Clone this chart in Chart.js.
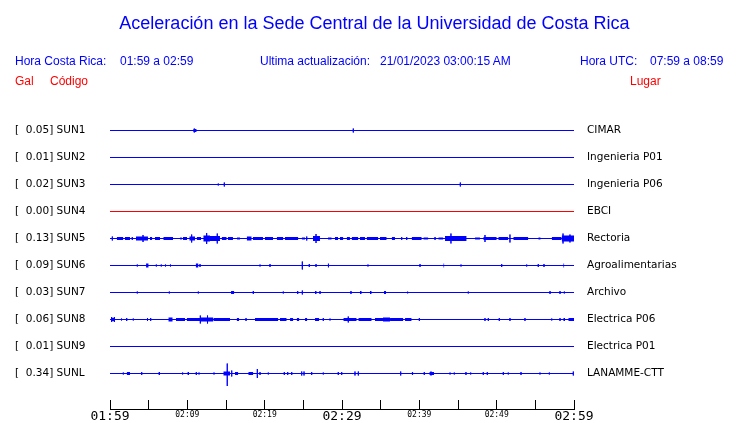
<!DOCTYPE html>
<html lang="es">
<head>
<meta charset="utf-8">
<title>Aceleración Sede Central UCR</title>
<script src="https://cdn.jsdelivr.net/npm/chart.js@4.4.1/dist/chart.umd.min.js"></script>
<style>
    body { margin: 0; background: #fff; }
    #marco { position: relative; width: 740px; height: 423px; overflow: hidden; font-family: "Liberation Sans", Arial, sans-serif; }
    #grafico { position: absolute; left: 0; top: 0; }
    .txt { position: absolute; white-space: pre; line-height: 1; font-size: 12px; color: #0000ff; }
    .rojo { color: #ff0000; }
    #titulo { left: 0; width: 749px; text-align: center; top: 14px; font-size: 18px; }
</style>
</head>
<body>
<div id="marco">
    <canvas id="grafico" width="740" height="423"></canvas>
    <div class="txt" id="titulo">Aceleración en la Sede Central de la Universidad de Costa Rica</div>
    <div class="txt" style="left:15px;top:55px">Hora Costa Rica:</div>
    <div class="txt" style="left:120px;top:55px">01:59 a 02:59</div>
    <div class="txt" style="left:260px;top:55px">Ultima actualización:</div>
    <div class="txt" style="left:380px;top:55px">21/01/2023 03:00:15 AM</div>
    <div class="txt" style="left:580px;top:55px">Hora UTC:</div>
    <div class="txt" style="left:650px;top:55px">07:59 a 08:59</div>
    <div class="txt rojo" style="left:15px;top:75px">Gal</div>
    <div class="txt rojo" style="left:50px;top:75px">Código</div>
    <div class="txt rojo" style="left:630px;top:75px">Lugar</div>
</div>
<script>
// estaciones
const codigos = ['SUN1', 'SUN2', 'SUN3', 'SUN4', 'SUN5', 'SUN6', 'SUN7', 'SUN8', 'SUN9', 'SUNL'];
const valoresGal = [0.05, 0.01, 0.02, 0.00, 0.13, 0.09, 0.03, 0.06, 0.01, 0.34];
const lugares = ['CIMAR', 'Ingenieria P01', 'Ingenieria P06', 'EBCI', 'Rectoria', 'Agroalimentarias',
    'Archivo', 'Electrica P06', 'Electrica P01', 'LANAMME-CTT'];
// eje de tiempo (minutos desde 01:59, cada 10)
const etiquetasTiempo = ['01:59', '02:09', '02:19', '02:29', '02:39', '02:49', '02:59'];

// picos: [minuto, amplitud(, amplitud abajo)]  rafagas: [minuto inicio, minuto fin, amplitud]
const picosSUN1 = [[10.9, 2], [31.46, 2]];
const rafagasSUN1 = [[10.77, 11.21, 1.5]];
const picosSUN2 = [];
const rafagasSUN2 = [];
const picosSUN3 = [[14.0, 1], [14.78, 2], [45.3, 2]];
const rafagasSUN3 = [];
const picosSUN4 = [];
const rafagasSUN4 = [];
const picosSUN5 = [[0.3, 2], [2.88, 1.5], [4.27, 3.5], [9.18, 1], [10.56, 4], [12.5, 5.5], [13.87, 5],
    [25.44, 2], [26.64, 4.5], [37.72, 1.5], [38.37, 1.5], [42.03, 1.5], [44.09, 5], [48.49, 3.5],
    [51.72, 4], [58.58, 5], [59.48, 4]];
const rafagasSUN5 = [[0.87, 1.72, 1.5], [1.94, 2.59, 1.5], [3.36, 4.91, 2], [5.17, 5.47, 1.5], [5.82, 6.47, 1.5],
    [6.89, 8.15, 1.5], [9.44, 9.96, 1.5], [10.25, 10.99, 2], [11.21, 11.77, 1.5], [12.06, 12.93, 3],
    [12.93, 14.22, 2.5], [14.44, 15.09, 1.5], [15.26, 15.9, 1.5], [16.42, 16.81, 1], [17.68, 18.32, 2],
    [18.49, 19.78, 1.5], [20.04, 21.08, 1.5], [21.56, 22.41, 1.5], [22.63, 24.35, 1.5], [24.79, 25.22, 1],
    [26.25, 27.15, 2.5], [28.19, 28.67, 1], [29.09, 29.48, 1.5], [29.74, 30.17, 1.5], [30.61, 31.03, 1.5],
    [31.25, 32.11, 1.5], [32.33, 32.97, 1.5], [33.19, 34.69, 1.5], [34.91, 35.78, 1.5], [36.43, 36.85, 1.5],
    [39.01, 40.31, 1.5], [40.52, 41.16, 1], [42.45, 43.1, 1], [43.32, 46.12, 2.5], [47.2, 47.84, 1],
    [48.27, 50.01, 1.5], [50.21, 51.5, 1.5], [52.15, 54.09, 1.5], [55.38, 55.69, 1], [57.12, 58.41, 1.5],
    [58.41, 60, 3]];
const picosSUN6 = [[3.53, 1], [5.99, 1], [6.63, 1], [7.18, 1], [7.82, 1], [11.64, 1.5], [19.4, 1], [20.69, 1.5],
    [24.87, 4], [25.77, 1.5], [26.64, 1.5], [33.36, 1], [40.09, 1.5], [45.39, 1], [50.65, 1.5], [53.88, 1],
    [55.38, 1.5], [56.12, 1.5]];
const rafagasSUN6 = [[4.66, 5.0, 2], [11.08, 11.44, 2], [28.15, 28.32, 2], [43.1, 43.23, 2], [58.61, 58.74, 2]];
const picosSUN7 = [[3.53, 1], [7.67, 1], [11.42, 1], [18.53, 1.5], [22.41, 1], [24.27, 1.5], [24.87, 2],
    [27.16, 1.5], [31.16, 1.5], [46.33, 1], [56.9, 1.5], [58.19, 1.5], [58.75, 1]];
const rafagasSUN7 = [[15.65, 16.07, 1.5], [26.51, 26.73, 1.5], [32.33, 32.55, 1.5], [33.62, 33.84, 1.5],
    [35.43, 35.69, 1.5], [38.44, 38.57, 1.5]];
const picosSUN8 = [[0.22, 2.5], [0.56, 2.5], [1.49, 1], [2.16, 1.5], [3.01, 1], [4.85, 1.5], [5.26, 1.5],
    [11.68, 4], [12.61, 4], [17.59, 1.5], [27.58, 1.5], [28.45, 1], [30.81, 3], [40.0, 1.5], [48.49, 1.5],
    [48.92, 1.5], [50.34, 1.5], [51.72, 1.5], [53.66, 1.5], [57.12, 1], [58.19, 1.5]];
const rafagasSUN8 = [[0.13, 0.65, 1.5], [7.54, 8.11, 2], [8.53, 9.7, 1.5], [9.92, 11.64, 1.5], [11.64, 13.36, 2],
    [13.36, 15.52, 1.5], [16.38, 16.71, 1.5], [18.75, 21.76, 1.5], [21.98, 22.85, 1.5], [23.28, 23.7, 1.5],
    [24.14, 24.48, 1.5], [25.22, 25.51, 1.5], [26.51, 27.06, 1.5], [30.17, 31.9, 1.5], [32.11, 33.84, 1.5],
    [34.27, 35.3, 1.5], [35.3, 36.21, 2], [36.21, 37.93, 1.5], [38.15, 39.01, 1.5], [58.61, 58.84, 1.5],
    [59.26, 60, 1.5]];
const picosSUN9 = [];
const rafagasSUN9 = [];
const picosSUNL = [[1.72, 1], [4.1, 1.5], [9.39, 1], [11.16, 1.5], [11.51, 1], [13.45, 1], [15.16, 10, 12.5],
    [15.74, 3], [19.05, 4.5], [19.4, 1.5], [20.47, 1], [22.54, 1.5], [22.98, 1.5], [23.5, 1.5], [24.79, 2],
    [25.09, 2], [26.08, 1.5], [27.58, 1], [29.52, 1.5], [29.96, 1.5], [31.68, 2], [32.11, 2], [37.59, 2],
    [40.64, 1.5], [41.51, 2], [43.97, 1], [44.52, 1], [46.03, 1.5], [46.64, 1], [48.27, 1.5], [48.79, 1.5],
    [50.86, 1.5], [51.5, 1], [53.15, 1.5], [55.6, 1], [56.81, 1], [59.91, 2]];
const rafagasSUNL = [[2.16, 2.59, 1.5], [6.25, 6.47, 1.5], [10.0, 10.22, 1.5], [14.65, 15.52, 2],
    [16.16, 16.59, 1.5], [17.88, 18.53, 1.5], [39.01, 39.22, 1.5], [41.29, 41.9, 1.5]];

const picos = [picosSUN1, picosSUN2, picosSUN3, picosSUN4, picosSUN5, picosSUN6, picosSUN7, picosSUN8, picosSUN9, picosSUNL];
const rafagas = [rafagasSUN1, rafagasSUN2, rafagasSUN3, rafagasSUN4, rafagasSUN5, rafagasSUN6, rafagasSUN7, rafagasSUN8, rafagasSUN9, rafagasSUNL];

// unidades del eje y = pixeles, una fila cada 27
const separacion = 27;
const bases = codigos.map((c, i) => 278.5 - separacion * i);
const colorDe = i => codigos[i] === 'SUN4' ? '#ff0000' : '#0000ff';
const etiquetasIzq = codigos.map((c, i) => '[  ' + valoresGal[i].toFixed(2) + '] ' + c);

const datasets = [];
codigos.forEach((c, i) => {
    const b = bases[i];
    const pts = [{ x: 0, y: b }];
    picos[i].slice().sort((p, q) => p[0] - q[0]).forEach(p => {
        const arriba = p[1];
        const abajo = p.length > 2 ? p[2] : p[1];
        pts.push({ x: p[0], y: b }, { x: p[0], y: b + arriba }, { x: p[0], y: b - abajo }, { x: p[0], y: b });
    });
    pts.push({ x: 60, y: b });
    datasets.push({ data: pts, borderColor: colorDe(i), borderWidth: 1, pointRadius: 0, fill: false, order: 2 });

    if (rafagas[i].length) {
        const sup = [], inf = [];
        rafagas[i].forEach(r => {
            sup.push({ x: r[0], y: b + r[2] }, { x: r[1], y: b + r[2] }, { x: r[1], y: null });
            inf.push({ x: r[0], y: b - r[2] }, { x: r[1], y: b - r[2] }, { x: r[1], y: null });
        });
        datasets.push({ data: sup, borderColor: 'transparent', backgroundColor: colorDe(i), borderWidth: 1,
            pointRadius: 0, fill: '+1', spanGaps: false, order: 1 });
        datasets.push({ data: inf, borderColor: 'transparent', borderWidth: 1, pointRadius: 0,
            fill: false, spanGaps: false, order: 1 });
    }
});

const fuenteMono = 'DejaVu Sans Mono';

new Chart(document.getElementById('grafico'), {
    type: 'line',
    data: { datasets: datasets },
    options: {
        responsive: false,
        animation: false,
        devicePixelRatio: 1,
        events: [],
        layout: { padding: { top: 103, left: 15, right: 0, bottom: 0 } },
        plugins: { legend: { display: false }, tooltip: { enabled: false } },
        scales: {
            x: {
                type: 'linear', min: 0, max: 60, position: 'bottom',
                ticks: {
                    stepSize: 5, autoSkip: false, maxRotation: 0, padding: 8.7, color: '#000',
                    font: ctx => (ctx.tick && ctx.tick.value % 30 === 0)
                        ? { family: fuenteMono, size: 13 }
                        : { family: fuenteMono, size: 8, lineHeight: 1.6 },
                    callback: v => v % 10 === 0 ? etiquetasTiempo[v / 10] : ''
                },
                grid: { drawOnChartArea: false, tickLength: -9, color: '#000', lineWidth: 1 },
                border: { display: true, color: '#000', width: 1 },
                afterFit: s => { s.height = 14; }
            },
            y: {
                type: 'linear', min: 0, max: 306, position: 'left',
                afterBuildTicks: s => { s.ticks = bases.map(v => ({ value: v })); },
                ticks: {
                    crossAlign: 'far', padding: 0, color: '#000', autoSkip: false,
                    font: { family: 'DejaVu Sans', size: 10.5 },
                    callback: (v, idx) => etiquetasIzq[idx]
                },
                grid: { display: false, drawTicks: false },
                border: { display: false },
                afterFit: s => { s.width = 95; }
            },
            y2: {
                type: 'linear', min: 0, max: 306, position: 'right',
                afterBuildTicks: s => { s.ticks = bases.map(v => ({ value: v })); },
                ticks: {
                    crossAlign: 'near', padding: 0, color: '#000', autoSkip: false,
                    font: { family: 'DejaVu Sans', size: 10.5 },
                    callback: (v, idx) => lugares[idx]
                },
                // separacion de 13px via tickLength (las marcas no se dibujan)
                grid: { display: false, drawTicks: true, tickLength: 13 },
                border: { display: false },
                afterFit: s => { s.width = 166; }
            }
        }
    }
});
</script>
</body>
</html>
